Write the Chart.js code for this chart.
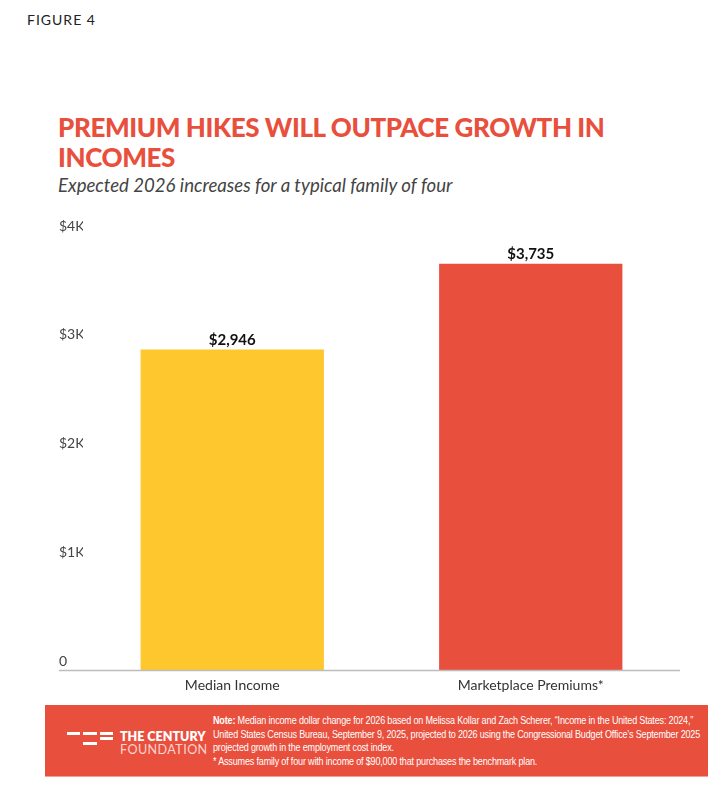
<!DOCTYPE html>
<html>
<head>
<meta charset="utf-8">
<script src="https://cdn.jsdelivr.net/npm/chart.js@4.4.1/dist/chart.umd.min.js"></script>
<style>
  html, body { margin: 0; padding: 0; background: #fff; }
  body { width: 723px; height: 804px; position: relative; overflow: hidden; font-family: Lato, "Open Sans", sans-serif; }
  .fig { position: absolute; left: 27px; top: 11px; font-size: 14px; letter-spacing: 1px; color: #222; }
  h1 { position: absolute; left: 58px; top: 112px; margin: 0; font-size: 26px; line-height: 30px; font-weight: 900; color: #E94F3D; letter-spacing: -0.4px; white-space: nowrap; }
  .sub { position: absolute; left: 58px; top: 174px; margin: 0; font-size: 18.6px; font-style: italic; color: #444; white-space: nowrap; }
  .chart { position: absolute; left: 59px; top: 215px; width: 621px; height: 490px; }
  .foot { position: absolute; left: 45px; top: 705px; width: 663px; height: 71px; background: #E94F3D; border-bottom: 1px solid #f3a195; }
  .logo i { position: absolute; height: 3px; background: #fff; }
  .brand { position: absolute; left: 75px; top: 25px; color: #fff; font-weight: 800; font-size: 12.5px; line-height: 13px; }
  .brand span { display: block; font-weight: 400; color: #fbd5cf; font-size: 12.6px; letter-spacing: 0.4px; }
  .note { position: absolute; left: 168px; top: 9px; color: #fff; font-family: "Liberation Sans Narrow", "Liberation Sans", sans-serif; font-size: 10.5px; line-height: 13.7px; white-space: nowrap; letter-spacing: -0.2px; transform: scaleX(0.86); transform-origin: 0 0; }
</style>
</head>
<body>
<div class="fig">FIGURE 4</div>
<h1>PREMIUM HIKES WILL OUTPACE GROWTH IN<br>INCOMES</h1>
<div class="sub">Expected 2026 increases for a typical family of four</div>
<div class="chart"><canvas id="c"></canvas></div>
<div class="foot">
  <div class="logo">
    <i style="left:22px;top:27px;width:13px"></i>
    <i style="left:38px;top:27px;width:14px"></i>
    <i style="left:55px;top:27px;width:13px"></i>
    <i style="left:55px;top:32px;width:13px"></i>
    <i style="left:38px;top:37px;width:14px"></i>
  </div>
  <div class="brand">THE CENTURY<span>FOUNDATION</span></div>
  <div class="note"><b>Note:</b> Median income dollar change for 2026 based on Melissa Kollar and Zach Scherer, “Income in the United States: 2024,”<br>United States Census Bureau, September 9, 2025, projected to 2026 using the Congressional Budget Office’s September 2025<br>projected growth in the employment cost index.<br>* Assumes family of four with income of $90,000 that purchases the benchmark plan.</div>
</div>
<script>
const categories = ["Median Income", "Marketplace Premiums*"];
const increases = [2946, 3735];
const barColors = ["#FEC72E", "#E94F3D"];
const yTicks = [0, 1000, 2000, 3000, 4000];

const fmtValue = v => "$" + v.toLocaleString("en-US");
const fmtTick = v => v === 0 ? "0" : "$" + (v / 1000) + "K";

// baseline runs from under the tick labels to the right edge
const baseline = {
  id: "baseline",
  afterDatasetsDraw(chart) {
    const { ctx, chartArea, scales } = chart;
    const y = scales.y.getPixelForValue(0);
    ctx.save();
    ctx.strokeStyle = "#bdbdbd";
    ctx.lineWidth = 1.5;
    ctx.beginPath();
    ctx.moveTo(scales.y.left, y + 0.5);
    ctx.lineTo(chartArea.right, y + 0.5);
    ctx.stroke();
    ctx.restore();
  }
};

const valueLabels = {
  id: "valueLabels",
  afterDatasetsDraw(chart) {
    const { ctx } = chart;
    const meta = chart.getDatasetMeta(0);
    ctx.save();
    ctx.font = "bold 15px Lato, sans-serif";
    ctx.fillStyle = "#111";
    ctx.textAlign = "center";
    ctx.textBaseline = "bottom";
    meta.data.forEach((bar, i) => {
      ctx.fillText(fmtValue(increases[i]), bar.x, bar.y - 2);
    });
    ctx.restore();
  }
};

new Chart(document.getElementById("c"), {
  type: "bar",
  data: {
    labels: categories,
    datasets: [{
      data: increases,
      backgroundColor: barColors,
      borderWidth: 0,
      barPercentage: 0.614,
      categoryPercentage: 1
    }]
  },
  options: {
    responsive: true,
    maintainAspectRatio: false,
    animation: false,
    layout: { padding: { top: 20, right: 0, bottom: 0, left: 0 } },
    plugins: { legend: { display: false }, tooltip: { enabled: false } },
    scales: {
      x: {
        grid: { display: false, drawTicks: false },
        border: { display: false },
        ticks: { color: "#333", font: { family: "Lato", size: 14 }, padding: 7, maxRotation: 0 },
        afterFit(s) { s.height = 35; }
      },
      y: {
        min: 0,
        max: 4000,
        afterBuildTicks(s) { s.ticks = yTicks.map(v => ({ value: v })); },
        grid: { display: false, drawTicks: false },
        border: { display: false },
        ticks: {
          color: "#444",
          font: { family: "Lato", size: 14 },
          crossAlign: "far",
          labelOffset: -9,
          padding: 0,
          callback: fmtTick
        },
        afterFit(s) { s.width = 24; }
      }
    }
  },
  plugins: [baseline, valueLabels]
});
</script>
</body>
</html>
